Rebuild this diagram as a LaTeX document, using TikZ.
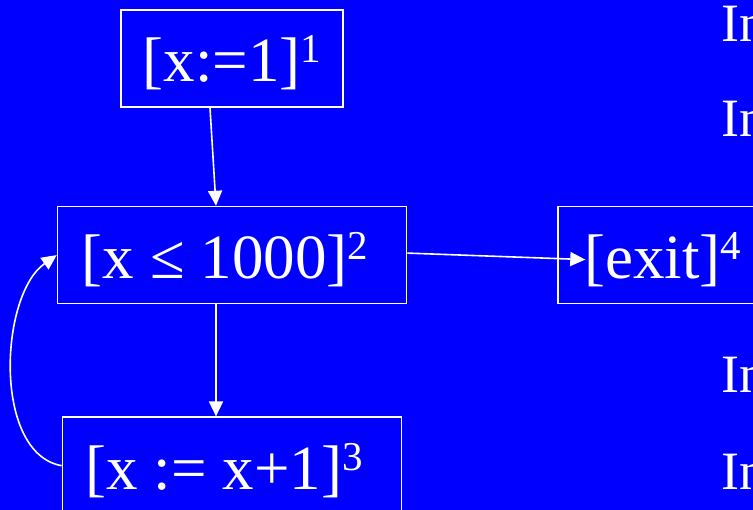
\documentclass[tikz,border=0pt]{standalone}
\usepackage{fontspec}
\setmainfont{Liberation Serif}
\usetikzlibrary{positioning}
\usetikzlibrary{arrows.meta}
\definecolor{slideblue}{RGB}{0,0,255}
\newcommand{\lbl}[1]{\raisebox{19pt}{\fontsize{41}{41}\selectfont #1}}
\tikzstyle{block} = [draw=white, line width=1.6pt,
text=white, inner ysep=0pt,
text height=72pt, text depth=25pt, % baseline sits low in the box
font=\fontsize{63}{70}\selectfont]
\tikzstyle{arrow} = [white, line width=1.6pt, -{Triangle[length=15pt,width=14pt]}]
\tikzstyle{side} = [text=white, anchor=base west, font=\fontsize{54}{60}\selectfont]
\begin{document}
\begin{tikzpicture}[x=1pt, y=-1pt]
    % slide background, cropped at the right
    \fill[slideblue] (0,0) rectangle (753,510);
    \useasboundingbox (0,0) rectangle (753,510);
    \clip (0,0) rectangle (753,510);
    \node[block, minimum width=222pt] (init) at (232,58.5) {[x:=1]\lbl{1}};
    \node[block, minimum width=349pt, below=98pt of init] (test) {[x ≤ 1000]\lbl{2}\kern14pt};
    \node[block, minimum width=339pt, below=112pt of test] (incr) {[x := x+1]\lbl{3}\kern16pt};
    \node[block, inner xsep=26pt, text width=200pt, align=left, right=150pt of test] (exit) {[exit]\lbl{4}};
    \draw[arrow] ([xshift=-22pt]init.south) -- ([xshift=-16pt]test.north);
    \draw[arrow] ([xshift=-16pt]test.south) -- ([xshift=-16pt]incr.north);
    \draw[arrow] ([yshift=2pt]test.east) -- ([xshift=28pt,yshift=-4.5pt]exit.west);
    \draw[arrow] (incr.west) to[out=170, in=215, looseness=0.85] (test.west);
    % text of the next column, cut off
    \node[side] (in1) at (718,42) {In};
    \node[side] (in2) at (718,137) {In};
    \node[side] (in3) at (718,393) {In};
    \node[side] (in4) at (718,490) {In};
\end{tikzpicture}
\end{document}
